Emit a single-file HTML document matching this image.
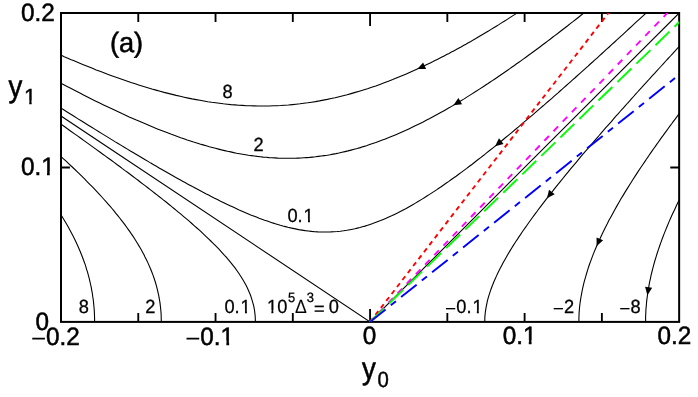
<!DOCTYPE html>
<html><head><meta charset="utf-8"><title>fig</title>
<style>
html,body{margin:0;padding:0;background:#fff;}
body{width:698px;height:397px;overflow:hidden;}
svg{display:block;}
text{font-family:"Liberation Sans",sans-serif;fill:#000;stroke:#000;text-rendering:geometricPrecision;}
</style></head>
<body>
<svg width="698" height="397" viewBox="0 0 698 397">
<rect width="698" height="397" fill="#fff"/>
<defs>
<filter id="gs" x="0" y="0" width="698" height="397" filterUnits="userSpaceOnUse" color-interpolation-filters="sRGB"><feColorMatrix type="saturate" values="0"/></filter>
<clipPath id="k0"><path clip-rule="evenodd" d="M0 0H698V397H0Z M41.43 171.22H47.02V177.00H41.43Z M49.72 171.22H55.12V177.00H49.72Z"/></clipPath>
<clipPath id="k1"><path clip-rule="evenodd" d="M0 0H698V397H0Z M220.83 340.62H226.42V346.40H220.83Z M229.12 340.62H234.52V346.40H229.12Z"/></clipPath>
<clipPath id="k2"><path clip-rule="evenodd" d="M0 0H698V397H0Z M523.23 340.22H528.82V346.00H523.23Z M531.52 340.22H536.92V346.00H531.52Z"/></clipPath>
<clipPath id="k3"><path clip-rule="evenodd" d="M0 0H698V397H0Z M24.06 100.57H29.26V106.10H24.06Z M31.63 100.57H36.66V106.10H31.63Z"/></clipPath>
<clipPath id="k4"><path clip-rule="evenodd" d="M0 0H698V397H0Z M303.36 218.98H308.01V224.30H303.36Z M309.92 218.98H314.43V224.30H309.92Z"/></clipPath>
<clipPath id="k5"><path clip-rule="evenodd" d="M0 0H698V397H0Z M240.36 309.88H245.01V315.20H240.36Z M246.92 309.88H251.43V315.20H246.92Z"/></clipPath>
<clipPath id="k6"><path clip-rule="evenodd" d="M0 0H698V397H0Z M266.79 309.88H271.44V315.20H266.79Z M273.35 309.88H277.85V315.20H273.35Z"/></clipPath>
<clipPath id="k7"><path clip-rule="evenodd" d="M0 0H698V397H0Z M472.21 309.88H476.86V315.20H472.21Z M478.77 309.88H483.28V315.20H478.77Z"/></clipPath>
<clipPath id="cp"><rect x="61.0" y="13.0" width="618.15" height="308.90"/></clipPath>
</defs>
<!-- contours -->
<g clip-path="url(#cp)" fill="none" stroke="#000" stroke-width="1.1">
<path d="M641.9 -77.5 L638.4 -74.8 L634.9 -72.0 L631.4 -69.3 L627.9 -66.7 L624.5 -64.0 L621.1 -61.4 L617.7 -58.8 L614.4 -56.2 L611.1 -53.7 L607.7 -51.2 L604.5 -48.7 L601.2 -46.2 L597.9 -43.8 L594.7 -41.4 L591.5 -39.0 L588.3 -36.6 L585.2 -34.3 L582.0 -32.0 L578.9 -29.7 L575.8 -27.5 L572.7 -25.3 L569.7 -23.0 L566.6 -20.9 L563.6 -18.7 L560.6 -16.6 L557.6 -14.5 L554.7 -12.4 L551.7 -10.3 L548.8 -8.3 L545.9 -6.3 L543.0 -4.3 L540.1 -2.3 L537.2 -0.4 L534.4 1.6 L531.6 3.5 L528.8 5.3 L526.0 7.2 L523.2 9.0 L520.4 10.8 L517.7 12.6 L515.0 14.4 L512.2 16.1 L509.5 17.9 L506.9 19.6 L504.2 21.3 L501.5 22.9 L498.9 24.6 L496.3 26.2 L493.7 27.8 L491.1 29.4 L488.5 31.0 L485.9 32.5 L483.4 34.0 L480.8 35.5 L478.3 37.0 L475.8 38.5 L473.3 39.9 L470.8 41.4 L468.3 42.8 L465.9 44.2 L463.4 45.5 L461.0 46.9 L458.6 48.2 L456.2 49.6 L453.7 50.9 L451.4 52.1 L449.0 53.4 L446.6 54.6 L444.2 55.9 L441.9 57.1 L439.6 58.3 L437.2 59.5 L434.9 60.6 L432.6 61.8 L430.3 62.9 L428.0 64.0 L425.8 65.1 L423.5 66.2 L419.0 68.3 L414.5 70.3 L410.1 72.3 L405.7 74.2 L401.3 76.0 L397.0 77.8 L392.7 79.6 L388.4 81.2 L384.2 82.8 L379.9 84.4 L375.8 85.9 L371.6 87.3 L367.5 88.7 L363.3 90.0 L359.3 91.2 L355.2 92.4 L351.1 93.6 L347.1 94.7 L343.1 95.7 L339.1 96.7 L335.1 97.7 L331.2 98.5 L327.2 99.4 L323.3 100.1 L319.4 100.9 L315.5 101.6 L311.6 102.2 L307.7 102.8 L303.8 103.3 L300.0 103.8 L296.1 104.2 L292.3 104.6 L288.4 105.0 L284.6 105.2 L280.8 105.5 L276.9 105.7 L273.1 105.8 L269.3 106.0 L265.5 106.0 L261.6 106.0 L257.8 106.0 L254.0 105.9 L250.2 105.8 L246.4 105.7 L242.5 105.4 L238.7 105.2 L234.9 104.9 L231.0 104.6 L227.2 104.2 L223.3 103.8 L219.5 103.3 L215.6 102.8 L211.7 102.3 L207.8 101.7 L203.9 101.0 L200.0 100.3 L196.1 99.6 L192.1 98.9 L188.2 98.1 L184.2 97.2 L180.2 96.3 L176.2 95.4 L172.2 94.4 L168.2 93.4 L164.1 92.4 L160.1 91.3 L156.0 90.1 L151.9 89.0 L147.7 87.7 L143.6 86.5 L139.4 85.2 L135.2 83.8 L131.0 82.5 L126.7 81.0 L122.5 79.6 L118.2 78.1 L113.8 76.5 L109.5 74.9 L105.1 73.3 L100.7 71.6 L96.2 69.9 L91.8 68.1 L87.3 66.3 L82.7 64.5 L78.1 62.6 L73.5 60.6 L71.2 59.7 L68.9 58.7 L66.6 57.7 L64.2 56.7 L61.9 55.6 L59.5 54.6 L57.1 53.5 L54.8 52.5 L52.4 51.4 L50.0 50.3 L47.6 49.2 L45.2 48.1 L42.7 47.0 L40.3 45.9 L37.9 44.8 L35.4 43.6 L32.9 42.5 L30.5 41.3 L28.0 40.1 L25.5 38.9 L23.0 37.7 L20.4 36.5 L17.9 35.3 L15.4 34.1 L12.8 32.8 L10.3 31.6 L7.7 30.3 L5.1 29.0 L2.5 27.7 L-0.1 26.4 L-2.7 25.1 L-5.4 23.8 L-8.0 22.4 L-10.7 21.1 L-13.3 19.7 L-16.0 18.3 L-18.7 17.0 L-21.4 15.6 L-24.1 14.1 L-26.8 12.7 L-29.6 11.3"/>
<path d="M89.5 366.5 L90.3 362.9 L91.0 359.4 L91.6 355.9 L92.2 352.4 L92.7 349.0 L93.1 345.6 L93.5 342.2 L93.8 338.8 L94.1 335.5 L94.3 332.1 L94.5 328.8 L94.6 325.6 L94.6 322.3 L94.6 319.1 L94.5 315.9 L94.4 312.7 L94.2 309.5 L93.9 306.3 L93.6 303.1 L93.3 300.0 L92.8 296.9 L92.4 293.8 L91.8 290.7 L91.3 287.6 L90.6 284.5 L89.9 281.4 L89.2 278.4 L88.4 275.3 L87.6 272.3 L86.6 269.3 L85.7 266.2 L84.7 263.2 L83.6 260.2 L82.5 257.2 L81.3 254.2 L80.1 251.2 L78.8 248.2 L77.5 245.2 L76.1 242.2 L74.7 239.2 L73.2 236.2 L71.6 233.2 L70.0 230.2 L68.4 227.2 L66.7 224.2 L64.9 221.2 L63.1 218.2 L61.3 215.2 L59.4 212.2 L57.4 209.2 L55.4 206.2 L53.3 203.1 L51.2 200.1 L49.0 197.1 L46.8 194.0 L44.5 191.0 L42.1 187.9 L39.7 184.8 L37.3 181.7 L34.8 178.6 L32.2 175.5 L29.6 172.4 L26.9 169.2 L24.2 166.1 L21.4 162.9 L18.6 159.8 L15.7 156.6 L12.7 153.4 L9.7 150.1 L6.6 146.9 L3.5 143.6 L0.3 140.4 L-2.9 137.1 L-6.2 133.7 L-9.6 130.4 L-13.0 127.1 L-16.5 123.7 L-20.0 120.3 L-23.6 116.9 L-25.4 115.2 L-27.3 113.4 L-29.1 111.7 L-31.0 110.0"/>
<path d="M693.0 -78.3 L689.5 -75.2 L686.0 -72.2 L682.5 -69.2 L679.1 -66.2 L675.7 -63.3 L672.3 -60.3 L668.9 -57.4 L665.6 -54.6 L662.2 -51.7 L659.0 -48.9 L655.7 -46.2 L652.4 -43.4 L649.2 -40.7 L646.0 -38.0 L642.9 -35.3 L639.7 -32.7 L636.6 -30.0 L633.5 -27.4 L630.4 -24.9 L627.3 -22.3 L624.3 -19.8 L621.3 -17.3 L618.3 -14.9 L615.3 -12.4 L612.4 -10.0 L609.5 -7.6 L606.6 -5.2 L603.7 -2.9 L600.8 -0.6 L598.0 1.7 L595.2 4.0 L592.4 6.2 L589.6 8.5 L586.8 10.7 L584.1 12.9 L581.3 15.0 L578.6 17.2 L576.0 19.3 L573.3 21.4 L570.6 23.4 L568.0 25.5 L565.4 27.5 L562.8 29.5 L560.2 31.5 L557.7 33.5 L555.1 35.4 L552.6 37.3 L550.1 39.3 L547.6 41.1 L545.1 43.0 L542.7 44.8 L540.2 46.7 L537.8 48.5 L535.4 50.3 L533.0 52.0 L530.6 53.8 L528.2 55.5 L525.9 57.2 L523.6 58.9 L521.2 60.6 L518.9 62.2 L516.6 63.8 L514.4 65.5 L512.1 67.0 L509.9 68.6 L507.6 70.2 L505.4 71.7 L503.2 73.3 L501.0 74.8 L498.8 76.3 L496.7 77.7 L494.5 79.2 L492.4 80.6 L490.2 82.0 L488.1 83.5 L486.0 84.8 L483.9 86.2 L479.8 88.9 L475.7 91.5 L471.6 94.1 L467.6 96.6 L463.7 99.1 L459.7 101.5 L455.9 103.8 L452.0 106.1 L448.2 108.3 L444.5 110.4 L440.7 112.5 L437.1 114.5 L433.4 116.5 L429.8 118.5 L426.2 120.3 L422.7 122.2 L419.1 123.9 L415.7 125.6 L412.2 127.3 L408.8 128.9 L405.4 130.5 L402.0 132.0 L398.6 133.5 L395.3 134.9 L392.0 136.3 L388.8 137.6 L385.5 138.9 L382.3 140.1 L379.1 141.3 L375.9 142.5 L372.7 143.6 L369.6 144.6 L366.5 145.7 L363.4 146.6 L360.3 147.6 L357.2 148.5 L354.1 149.3 L351.1 150.1 L348.0 150.9 L345.0 151.6 L342.0 152.3 L339.0 153.0 L336.0 153.6 L333.1 154.1 L330.1 154.7 L327.2 155.2 L324.2 155.6 L321.3 156.0 L318.3 156.4 L315.4 156.8 L312.5 157.1 L309.6 157.4 L306.7 157.6 L303.8 157.8 L300.9 158.0 L298.0 158.1 L295.1 158.2 L292.2 158.3 L289.3 158.3 L286.4 158.3 L283.5 158.3 L280.6 158.2 L277.7 158.1 L274.8 157.9 L271.9 157.8 L269.0 157.6 L266.1 157.3 L263.2 157.1 L260.3 156.7 L257.3 156.4 L254.4 156.0 L251.5 155.6 L248.5 155.2 L245.6 154.7 L242.6 154.2 L239.6 153.7 L236.6 153.2 L233.7 152.6 L230.7 151.9 L227.6 151.3 L224.6 150.6 L221.6 149.9 L218.5 149.1 L215.5 148.3 L212.4 147.5 L209.3 146.7 L206.2 145.8 L203.1 144.9 L199.9 144.0 L196.8 143.0 L193.6 142.0 L190.4 140.9 L187.2 139.9 L184.0 138.8 L180.7 137.7 L177.4 136.5 L174.2 135.3 L170.8 134.1 L167.5 132.8 L164.2 131.5 L160.8 130.2 L157.4 128.9 L153.9 127.5 L150.5 126.1 L147.0 124.6 L143.5 123.1 L140.0 121.6 L136.4 120.1 L132.8 118.5 L129.2 116.9 L125.6 115.2 L121.9 113.6 L118.2 111.8 L114.5 110.1 L110.7 108.3 L106.9 106.5 L103.1 104.7 L99.2 102.8 L95.3 100.9 L91.4 98.9 L87.5 96.9 L83.5 94.9 L79.4 92.8 L75.4 90.7 L71.2 88.6 L67.1 86.5 L62.9 84.3 L58.7 82.0 L54.4 79.7 L50.1 77.4 L45.8 75.1 L41.4 72.7 L39.2 71.5 L37.0 70.3 L34.7 69.1 L32.5 67.8 L30.2 66.6 L28.0 65.3 L25.7 64.1 L23.4 62.8 L21.1 61.5 L18.8 60.2 L16.5 58.9 L14.2 57.6 L11.8 56.3 L9.5 54.9 L7.1 53.6 L4.7 52.2 L2.3 50.9 L-0.1 49.5 L-2.5 48.1 L-4.9 46.7 L-7.4 45.3 L-9.8 43.9 L-12.3 42.5 L-14.8 41.1 L-17.3 39.6 L-19.8 38.2 L-22.3 36.7 L-24.8 35.2 L-27.4 33.7 L-29.9 32.2"/>
<path d="M154.3 368.0 L155.1 365.2 L155.8 362.4 L156.5 359.7 L157.2 357.0 L157.7 354.3 L158.3 351.6 L158.8 348.9 L159.3 346.3 L159.7 343.7 L160.0 341.1 L160.3 338.5 L160.6 335.9 L160.8 333.4 L161.0 330.9 L161.2 328.4 L161.3 324.6 L161.3 320.9 L161.2 317.3 L161.1 313.6 L160.8 310.0 L160.4 306.4 L160.0 302.9 L159.4 299.4 L158.8 295.8 L158.0 292.3 L157.2 288.9 L156.3 285.4 L155.3 282.0 L154.2 278.5 L153.0 275.1 L151.7 271.7 L150.3 268.3 L148.8 264.9 L147.3 261.4 L146.2 259.2 L145.0 256.9 L143.9 254.6 L142.7 252.4 L141.4 250.1 L140.1 247.8 L138.8 245.6 L137.4 243.3 L136.0 241.0 L134.6 238.7 L133.1 236.4 L131.5 234.1 L130.0 231.9 L128.4 229.6 L126.7 227.2 L125.0 224.9 L123.3 222.6 L121.5 220.3 L119.7 218.0 L117.8 215.6 L115.9 213.3 L114.0 210.9 L112.0 208.5 L110.0 206.2 L107.9 203.8 L105.8 201.4 L103.6 199.0 L101.4 196.5 L99.2 194.1 L96.9 191.7 L94.6 189.2 L92.2 186.7 L89.8 184.3 L87.3 181.8 L84.8 179.2 L82.3 176.7 L79.7 174.2 L77.1 171.6 L74.4 169.0 L71.7 166.5 L68.9 163.8 L66.1 161.2 L63.2 158.6 L60.3 155.9 L57.3 153.2 L54.3 150.5 L51.3 147.8 L48.2 145.1 L45.0 142.3 L41.8 139.5 L38.6 136.7 L35.3 133.9 L31.9 131.1 L28.5 128.2 L25.1 125.3 L21.6 122.4 L18.0 119.4 L14.4 116.5 L10.7 113.5 L7.0 110.5 L3.2 107.4 L-0.6 104.3 L-4.5 101.2 L-6.4 99.7 L-8.4 98.1 L-10.4 96.5 L-12.4 95.0 L-14.4 93.4 L-16.4 91.8 L-18.5 90.2 L-20.5 88.6 L-22.6 87.0 L-24.7 85.3 L-26.8 83.7 L-28.9 82.1 L-31.0 80.4"/>
<path d="M741.6 -77.0 L738.1 -73.6 L734.6 -70.3 L731.1 -67.0 L727.7 -63.8 L724.3 -60.6 L720.9 -57.4 L717.6 -54.2 L714.3 -51.0 L711.0 -47.9 L707.7 -44.8 L704.5 -41.8 L701.3 -38.8 L698.1 -35.8 L695.0 -32.8 L691.8 -29.8 L688.7 -26.9 L685.7 -24.0 L682.6 -21.2 L679.6 -18.3 L676.6 -15.5 L673.6 -12.7 L670.7 -10.0 L667.8 -7.2 L664.9 -4.5 L662.0 -1.8 L659.1 0.8 L656.3 3.5 L653.5 6.1 L650.7 8.7 L648.0 11.2 L645.2 13.8 L642.5 16.3 L639.8 18.8 L637.2 21.2 L634.5 23.7 L631.9 26.1 L629.3 28.5 L626.7 30.9 L624.1 33.3 L621.6 35.6 L619.1 37.9 L616.6 40.2 L614.1 42.5 L611.6 44.7 L609.2 47.0 L606.7 49.2 L604.3 51.3 L602.0 53.5 L599.6 55.7 L597.3 57.8 L594.9 59.9 L592.6 62.0 L590.3 64.0 L588.1 66.1 L585.8 68.1 L583.6 70.1 L581.3 72.1 L579.1 74.1 L577.0 76.0 L574.8 78.0 L572.6 79.9 L570.5 81.8 L568.4 83.7 L566.3 85.5 L564.2 87.4 L562.2 89.2 L560.1 91.0 L558.1 92.8 L556.0 94.6 L554.0 96.3 L552.1 98.1 L550.1 99.8 L548.1 101.5 L546.2 103.2 L544.3 104.9 L542.3 106.5 L540.4 108.2 L536.7 111.4 L533.0 114.6 L529.4 117.7 L525.8 120.7 L522.2 123.7 L518.8 126.7 L515.3 129.5 L512.0 132.3 L508.6 135.1 L505.3 137.8 L502.1 140.5 L498.9 143.1 L495.8 145.6 L492.7 148.1 L489.6 150.5 L486.6 152.9 L483.7 155.3 L480.7 157.6 L477.8 159.8 L475.0 162.0 L472.2 164.2 L469.4 166.3 L466.7 168.4 L464.0 170.4 L461.3 172.4 L458.7 174.3 L456.1 176.2 L453.5 178.0 L451.0 179.8 L448.5 181.6 L446.0 183.3 L443.6 185.0 L441.2 186.7 L438.8 188.3 L436.5 189.9 L434.2 191.4 L431.9 192.9 L429.6 194.4 L427.3 195.8 L425.1 197.2 L422.9 198.6 L420.8 199.9 L418.6 201.2 L415.4 203.1 L412.3 204.9 L409.2 206.7 L406.2 208.4 L403.2 210.0 L400.3 211.5 L397.4 213.0 L394.5 214.4 L391.6 215.8 L388.8 217.0 L386.1 218.3 L383.3 219.4 L380.6 220.6 L378.0 221.6 L375.3 222.6 L372.7 223.6 L370.1 224.4 L367.5 225.3 L365.0 226.1 L362.4 226.8 L359.9 227.5 L357.4 228.1 L354.9 228.7 L352.5 229.2 L350.0 229.7 L346.8 230.3 L343.5 230.8 L340.3 231.2 L337.1 231.5 L333.9 231.7 L330.7 231.9 L327.6 232.0 L324.4 232.0 L321.2 232.0 L318.0 231.9 L314.8 231.7 L311.6 231.4 L308.4 231.0 L305.2 230.6 L302.0 230.1 L298.7 229.6 L295.4 228.9 L292.9 228.4 L290.5 227.9 L288.0 227.3 L285.4 226.6 L282.9 226.0 L280.3 225.3 L277.8 224.5 L275.2 223.7 L272.6 222.9 L269.9 222.0 L267.3 221.1 L264.6 220.2 L261.9 219.2 L259.1 218.2 L256.4 217.1 L253.6 216.0 L250.7 214.9 L247.9 213.7 L245.0 212.4 L242.1 211.2 L239.1 209.9 L236.1 208.5 L233.1 207.1 L230.0 205.7 L226.9 204.3 L223.8 202.7 L220.6 201.2 L217.4 199.6 L214.1 198.0 L210.8 196.3 L208.6 195.1 L206.3 194.0 L204.0 192.8 L201.7 191.6 L199.4 190.3 L197.1 189.1 L194.7 187.8 L192.4 186.6 L189.9 185.2 L187.5 183.9 L185.1 182.6 L182.6 181.2 L180.1 179.8 L177.6 178.4 L175.0 177.0 L172.4 175.5 L169.8 174.0 L167.2 172.5 L164.5 171.0 L161.9 169.5 L159.1 167.9 L156.4 166.3 L153.6 164.7 L150.8 163.1 L148.0 161.4 L145.2 159.7 L142.3 158.0 L139.4 156.3 L136.4 154.5 L133.5 152.8 L130.4 151.0 L127.4 149.1 L124.3 147.3 L121.2 145.4 L118.1 143.5 L114.9 141.6 L111.7 139.6 L108.5 137.6 L105.2 135.6 L101.9 133.6 L98.5 131.5 L95.1 129.4 L91.7 127.3 L88.3 125.2 L84.8 123.0 L81.2 120.8 L77.6 118.6 L74.0 116.3 L70.4 114.0 L66.7 111.7 L62.9 109.3 L59.1 107.0 L55.3 104.5 L51.5 102.1 L47.5 99.6 L43.6 97.1 L39.6 94.6 L35.5 92.0 L31.5 89.4 L27.3 86.8 L23.1 84.1 L21.0 82.8 L18.9 81.4 L16.8 80.0 L14.6 78.7 L12.5 77.3 L10.3 75.9 L8.1 74.5 L5.9 73.1 L3.7 71.7 L1.5 70.2 L-0.7 68.8 L-3.0 67.4 L-5.2 65.9 L-7.5 64.5 L-9.8 63.0 L-12.1 61.5 L-14.4 60.0 L-16.7 58.5 L-19.1 57.0 L-21.4 55.5 L-23.8 54.0 L-26.2 52.4 L-28.5 50.9 L-30.9 49.3"/>
<path d="M243.6 368.1 L244.8 365.5 L245.9 362.9 L246.9 360.4 L247.9 357.9 L248.9 355.4 L249.7 353.0 L250.5 350.6 L251.5 347.5 L252.3 344.4 L253.1 341.4 L253.7 338.5 L254.2 335.5 L254.7 332.7 L255.0 329.8 L255.2 327.1 L255.4 324.3 L255.4 321.6 L255.3 318.9 L255.2 316.3 L254.9 313.6 L254.6 311.0 L254.2 308.4 L253.7 305.9 L253.0 303.3 L252.3 300.8 L251.5 298.3 L250.7 295.8 L249.7 293.3 L248.6 290.8 L247.5 288.3 L246.3 285.8 L244.9 283.3 L243.5 280.8 L242.0 278.3 L240.4 275.8 L238.8 273.3 L237.0 270.8 L235.2 268.2 L233.2 265.7 L231.2 263.1 L229.6 261.2 L227.9 259.2 L226.3 257.2 L224.5 255.3 L222.7 253.3 L220.9 251.3 L219.0 249.2 L217.0 247.2 L215.0 245.2 L212.9 243.1 L210.8 241.0 L208.6 238.9 L206.4 236.8 L204.1 234.6 L201.8 232.4 L199.4 230.2 L196.9 228.0 L194.4 225.8 L191.8 223.5 L189.2 221.2 L186.5 218.9 L183.7 216.6 L180.9 214.2 L178.0 211.8 L176.0 210.2 L174.0 208.5 L172.0 206.9 L170.0 205.2 L167.9 203.5 L165.8 201.8 L163.6 200.1 L161.5 198.4 L159.3 196.7 L157.0 194.9 L154.8 193.2 L152.5 191.4 L150.2 189.6 L147.8 187.7 L145.4 185.9 L143.0 184.1 L140.5 182.2 L138.1 180.3 L135.5 178.4 L133.0 176.5 L130.4 174.5 L127.8 172.5 L125.1 170.6 L122.4 168.6 L119.7 166.5 L116.9 164.5 L114.1 162.4 L111.3 160.3 L108.4 158.2 L105.5 156.1 L102.5 154.0 L99.5 151.8 L96.5 149.6 L93.4 147.4 L90.3 145.1 L87.2 142.9 L84.0 140.6 L80.8 138.3 L77.5 135.9 L74.2 133.6 L70.8 131.2 L67.4 128.8 L64.0 126.3 L60.5 123.8 L57.0 121.4 L53.4 118.8 L49.8 116.3 L46.1 113.7 L42.4 111.1 L38.7 108.5 L34.9 105.8 L31.0 103.1 L27.1 100.4 L23.2 97.7 L19.2 94.9 L15.2 92.1 L11.1 89.2 L9.0 87.8 L6.9 86.3 L4.8 84.9 L2.7 83.4 L0.6 82.0 L-1.5 80.5 L-3.6 79.0 L-5.8 77.5 L-8.0 76.0 L-10.1 74.5 L-12.3 73.0 L-14.6 71.5 L-16.8 70.0 L-19.0 68.4 L-21.3 66.9 L-23.5 65.3 L-25.8 63.7 L-28.1 62.2 L-30.4 60.6"/>
<path d="M770.5 57.3 L768.1 60.4 L765.9 63.5 L763.6 66.6 L761.3 69.6 L759.1 72.7 L756.9 75.7 L754.8 78.7 L752.6 81.6 L750.5 84.6 L748.4 87.5 L746.4 90.4 L744.3 93.3 L742.3 96.2 L740.3 99.0 L738.4 101.9 L736.4 104.7 L734.5 107.5 L732.6 110.2 L730.8 113.0 L729.0 115.7 L727.1 118.4 L725.4 121.1 L723.6 123.8 L721.8 126.5 L720.1 129.1 L718.4 131.7 L716.8 134.3 L715.1 136.9 L713.5 139.5 L711.9 142.0 L710.3 144.6 L708.8 147.1 L707.2 149.6 L705.7 152.1 L704.2 154.5 L702.7 157.0 L701.3 159.4 L699.9 161.8 L698.5 164.3 L697.1 166.6 L695.7 169.0 L694.4 171.4 L693.1 173.7 L691.8 176.1 L690.5 178.4 L689.2 180.7 L688.0 183.0 L686.8 185.2 L685.6 187.5 L684.4 189.8 L683.2 192.0 L681.0 196.4 L678.8 200.8 L676.7 205.1 L674.7 209.4 L672.7 213.6 L670.8 217.8 L669.0 221.9 L667.3 226.0 L665.6 230.1 L664.0 234.1 L662.5 238.0 L661.1 241.9 L659.7 245.8 L658.4 249.7 L657.1 253.5 L656.0 257.2 L654.8 261.0 L653.8 264.7 L652.8 268.3 L651.9 272.0 L651.0 275.6 L650.3 279.1 L649.5 282.7 L648.9 286.2 L648.3 289.7 L647.7 293.1 L647.3 296.5 L646.8 299.9 L646.5 303.3 L646.2 306.7 L645.9 310.0 L645.8 313.3 L645.6 316.6 L645.6 319.9 L645.6 323.1 L645.6 326.3 L645.7 329.6 L645.9 332.7 L646.1 335.9 L646.4 339.1 L646.7 342.2 L647.1 345.4 L647.5 348.5 L648.0 351.6 L648.6 354.7 L649.2 357.8 L649.9 360.8 L650.6 363.9 L651.3 366.9"/>
<path d="M771.4 0.5 L768.6 3.8 L765.8 7.1 L763.0 10.3 L760.3 13.6 L757.6 16.8 L754.9 19.9 L752.2 23.1 L749.6 26.2 L747.0 29.3 L744.4 32.4 L741.9 35.4 L739.3 38.4 L736.9 41.4 L734.4 44.4 L731.9 47.4 L729.5 50.3 L727.1 53.2 L724.8 56.1 L722.4 58.9 L720.1 61.8 L717.8 64.6 L715.6 67.4 L713.3 70.2 L711.1 72.9 L708.9 75.6 L706.8 78.4 L704.6 81.0 L702.5 83.7 L700.4 86.4 L698.3 89.0 L696.3 91.6 L694.3 94.2 L692.3 96.8 L690.3 99.3 L688.3 101.9 L686.4 104.4 L684.5 106.9 L682.6 109.3 L680.7 111.8 L678.9 114.2 L677.0 116.7 L675.2 119.1 L673.4 121.4 L671.7 123.8 L669.9 126.2 L668.2 128.5 L666.5 130.8 L664.8 133.1 L663.2 135.4 L661.5 137.7 L659.9 139.9 L658.3 142.2 L656.7 144.4 L655.2 146.6 L653.6 148.8 L652.1 150.9 L650.6 153.1 L649.1 155.2 L647.7 157.4 L646.2 159.5 L644.8 161.6 L643.4 163.7 L640.6 167.8 L637.9 171.9 L635.3 175.9 L632.8 179.8 L630.3 183.7 L627.9 187.6 L625.5 191.4 L623.3 195.1 L621.0 198.8 L618.9 202.5 L616.8 206.1 L614.8 209.7 L612.9 213.2 L611.0 216.7 L609.1 220.1 L607.4 223.5 L605.6 226.9 L604.0 230.2 L602.4 233.5 L600.9 236.7 L599.4 239.9 L598.0 243.1 L596.6 246.2 L595.3 249.3 L594.0 252.4 L592.8 255.4 L591.7 258.4 L590.6 261.4 L589.5 264.3 L588.5 267.2 L587.6 270.1 L586.7 273.0 L585.9 275.8 L585.1 278.6 L584.3 281.4 L583.6 284.1 L583.0 286.8 L582.4 289.5 L581.9 292.2 L581.4 294.9 L580.9 297.5 L580.5 300.1 L580.1 302.7 L579.8 305.3 L579.5 307.9 L579.3 310.4 L579.1 312.9 L579.0 315.4 L578.9 319.2 L578.9 322.9 L578.9 326.5 L579.1 330.2 L579.4 333.8 L579.7 337.4 L580.2 340.9 L580.7 344.4 L581.4 348.0 L582.1 351.5 L583.0 354.9 L583.9 358.4 L584.9 361.8 L586.0 365.3 L586.8 367.6"/>
<path d="M771.4 -51.4 L768.1 -48.0 L764.9 -44.6 L761.6 -41.2 L758.4 -37.8 L755.3 -34.5 L752.1 -31.2 L749.0 -27.9 L745.9 -24.6 L742.9 -21.4 L739.9 -18.2 L736.9 -15.1 L733.9 -11.9 L731.0 -8.8 L728.1 -5.7 L725.2 -2.7 L722.3 0.4 L719.5 3.4 L716.7 6.4 L713.9 9.3 L711.1 12.3 L708.4 15.2 L705.7 18.1 L703.0 20.9 L700.4 23.8 L697.8 26.6 L695.2 29.4 L692.6 32.1 L690.0 34.9 L687.5 37.6 L685.0 40.3 L682.5 42.9 L680.1 45.6 L677.6 48.2 L675.2 50.8 L672.9 53.4 L670.5 56.0 L668.1 58.5 L665.8 61.0 L663.5 63.6 L661.3 66.0 L659.0 68.5 L656.8 70.9 L654.6 73.3 L652.4 75.7 L650.2 78.1 L648.1 80.5 L645.9 82.8 L643.8 85.1 L641.8 87.4 L639.7 89.7 L637.6 92.0 L635.6 94.2 L633.6 96.5 L631.6 98.7 L629.7 100.9 L627.7 103.0 L625.8 105.2 L623.9 107.3 L622.0 109.4 L620.1 111.5 L618.3 113.6 L616.4 115.7 L614.6 117.7 L612.8 119.8 L611.1 121.8 L609.3 123.8 L607.5 125.8 L605.8 127.7 L604.1 129.7 L602.4 131.6 L600.7 133.6 L599.1 135.5 L597.5 137.3 L594.2 141.1 L591.1 144.8 L588.0 148.4 L584.9 151.9 L581.9 155.4 L579.0 158.9 L576.2 162.3 L573.4 165.6 L570.6 168.9 L568.0 172.2 L565.3 175.3 L562.8 178.5 L560.3 181.6 L557.8 184.6 L555.4 187.6 L553.1 190.6 L550.8 193.5 L548.5 196.3 L546.3 199.2 L544.2 201.9 L542.1 204.7 L540.0 207.4 L538.0 210.0 L536.1 212.7 L534.2 215.2 L532.3 217.8 L530.5 220.3 L528.7 222.8 L527.0 225.2 L525.3 227.6 L523.6 230.0 L522.0 232.3 L520.5 234.6 L518.9 236.9 L517.5 239.1 L516.0 241.3 L514.6 243.5 L513.2 245.6 L511.9 247.8 L510.0 250.9 L508.1 254.0 L506.4 257.0 L504.7 259.9 L503.1 262.8 L501.6 265.7 L500.1 268.5 L498.7 271.2 L497.4 273.9 L496.2 276.6 L495.0 279.2 L493.9 281.7 L492.9 284.3 L491.9 286.7 L491.0 289.2 L490.2 291.6 L489.1 294.8 L488.2 297.8 L487.4 300.9 L486.8 303.9 L486.2 306.8 L485.7 309.7 L485.3 312.5 L485.0 315.4 L484.8 318.1 L484.8 320.9 L484.8 323.6 L484.9 326.2 L485.1 328.9 L485.4 331.5 L485.8 334.1 L486.2 336.6 L486.8 339.2 L487.5 341.7 L488.2 344.3 L489.0 346.8 L490.0 349.3 L491.0 351.8 L492.1 354.3 L493.3 356.8 L494.5 359.3 L495.9 361.7 L497.4 364.2 L498.9 366.7 L499.7 368.0"/>
<path d="M61.00 115.97 L370.07 321.90 L679.15 13.00"/>
</g>
<!-- arrows -->
<g fill="#000" stroke="none">
<polygon points="417.38,69.03 423.11,62.38 426.15,68.91"/>
<polygon points="453.37,105.27 458.39,98.08 462.08,104.26"/>
<polygon points="495.06,146.20 499.00,138.36 503.54,143.95"/>
<polygon points="647.40,295.19 645.08,286.73 652.19,287.84"/>
<polygon points="596.58,246.18 596.55,237.41 603.12,240.34"/>
<polygon points="546.93,198.37 549.03,189.86 554.69,194.30"/>
</g>
<!-- ticks and frame -->
<path d="M138.27 321.90 V313.00 M138.27 13.00 V21.90 M215.54 321.90 V313.00 M215.54 13.00 V21.90 M292.81 321.90 V313.00 M292.81 13.00 V21.90 M447.34 321.90 V313.00 M447.34 13.00 V21.90 M524.61 321.90 V313.00 M524.61 13.00 V21.90 M601.88 321.90 V313.00 M601.88 13.00 V21.90 M370.07 321.90 V309.00 M370.07 13.00 V25.90 M61.00 167.45 H69.90 M679.15 167.45 H670.25" fill="none" stroke="#000" stroke-width="1.85"/>
<rect x="61.0" y="13.0" width="618.15" height="308.90" fill="none" stroke="#000" stroke-width="2"/>
<!-- coloured lines -->
<g clip-path="url(#cp)" fill="none" stroke-width="1.9">
<path d="M370.07 321.90 L710.06 -118.81" stroke="#ff0000" stroke-dasharray="4.7 4.12"/>
<path d="M370.07 321.90 L710.06 -31.48" stroke="#ff00ff" stroke-dasharray="6.6 6.63"/>
<path d="M370.07 321.90 L710.06 -7.70" stroke="#00ff00" stroke-dasharray="19.5 7"/>
<path d="M370.07 321.90 L710.06 50.07" stroke="#0000ff" stroke-dasharray="19.9 6.6 6.6 6.6"/>
</g>
<!-- labels -->
<g filter="url(#gs)">
<text transform="translate(21 21.3) scale(0.965 1)" font-size="25.2" stroke-width="0.55">0.2</text>
<g clip-path="url(#k0)"><text transform="translate(20.9 175.1) scale(0.965 1)" font-size="25.2" stroke-width="0.55">0.1</text></g>
<text transform="translate(35.5 330.3) scale(0.965 1)" font-size="25.2" stroke-width="0.55">0</text>
<text transform="translate(30.9 346.7) scale(1.03255 1)" font-size="25.2" stroke-width="0.05">&#8722;</text>
<text transform="translate(45.9013 344.5) scale(0.965 1)" font-size="25.2" stroke-width="0.55">0.2</text>
<text transform="translate(185.3 346.7) scale(1.03255 1)" font-size="25.2" stroke-width="0.05">&#8722;</text>
<g clip-path="url(#k1)"><text transform="translate(200.301 344.5) scale(0.965 1)" font-size="25.2" stroke-width="0.55">0.1</text></g>
<text transform="translate(362.8 344.3) scale(0.965 1)" font-size="25.2" stroke-width="0.55">0</text>
<g clip-path="url(#k2)"><text transform="translate(502.7 344.1) scale(0.965 1)" font-size="25.2" stroke-width="0.55">0.1</text></g>
<text transform="translate(657.4 344.05) scale(0.965 1)" font-size="25.2" stroke-width="0.55">0.2</text>
<text transform="translate(8.6 97.3) scale(0.89 1)" font-size="31" stroke-width="0.55">y</text>
<g clip-path="url(#k3)"><text x="24" y="104.2" font-size="21.8" stroke-width="0.45">1</text></g>
<text transform="translate(361.9 378.9) scale(0.89 1)" font-size="31" stroke-width="0.55">y</text>
<text transform="translate(377.6 387) scale(0.93 1)" font-size="21.9" stroke-width="0.45">0</text>
<text transform="translate(109.9 52) scale(0.97 1)" font-size="28" stroke-width="0.55">(a)</text>
<text transform="translate(222.4 97.8) scale(0.96 1)" font-size="19" stroke-width="0.3">8</text>
<text transform="translate(253.4 150.9) scale(0.96 1)" font-size="19" stroke-width="0.3">2</text>
<g clip-path="url(#k4)"><text transform="translate(287.4 222.4) scale(0.96 1)" font-size="19" stroke-width="0.3">0.<tspan dx="1">1</tspan></text></g>
<text transform="translate(78.8 313.1) scale(0.96 1)" font-size="19" stroke-width="0.3">8</text>
<text transform="translate(145.3 313.2) scale(0.96 1)" font-size="19" stroke-width="0.3">2</text>
<g clip-path="url(#k5)"><text transform="translate(224.4 313.3) scale(0.96 1)" font-size="19" stroke-width="0.3">0.<tspan dx="1">1</tspan></text></g>
<g clip-path="url(#k6)"><text transform="translate(267 313.3) scale(0.96 1)" font-size="19" stroke-width="0.3">10</text></g>
<text transform="translate(288 302) scale(0.96 1)" font-size="13.5" stroke-width="0.3">5</text>
<text transform="translate(295.1 313.3) scale(0.93 1)" font-size="19" stroke-width="0.1">&#916;</text>
<text transform="translate(306.7 302.2) scale(0.96 1)" font-size="13.5" stroke-width="0.3">3</text>
<text transform="translate(313.9 314.8) scale(0.96 1)" font-size="19" stroke-width="0.3">=</text>
<text transform="translate(328.8 313.3) scale(0.96 1)" font-size="19" stroke-width="0.3">0</text>
<text transform="translate(445 315.2) scale(1.008 1)" font-size="19" stroke-width="0">&#8722;</text>
<g clip-path="url(#k7)"><text transform="translate(456.252 313.3) scale(0.96 1)" font-size="19" stroke-width="0.3">0.<tspan dx="1">1</tspan></text></g>
<text transform="translate(552.8 315.2) scale(1.008 1)" font-size="19" stroke-width="0">&#8722;</text>
<text transform="translate(564.052 313.3) scale(0.96 1)" font-size="19" stroke-width="0.3">2</text>
<text transform="translate(619.3 315.2) scale(1.008 1)" font-size="19" stroke-width="0">&#8722;</text>
<text transform="translate(630.552 313.3) scale(0.96 1)" font-size="19" stroke-width="0.3">8</text>
</g>
</svg>
</body></html>
